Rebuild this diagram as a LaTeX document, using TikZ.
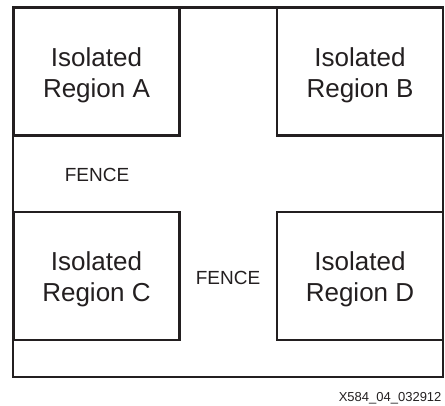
\documentclass[tikz,border=0pt]{standalone}
\usepackage{fontspec}
\setmainfont{Liberation Sans}
\usetikzlibrary{positioning}
\definecolor{FenceInk}{RGB}{35,31,32}
\tikzset{
  fence/frame/.style={
    draw=FenceInk,
    line width=2.2pt
  },
  fence/region/.style={
    draw=FenceInk,
    line width=2.2pt,
    fill=white,
    minimum width=166pt,
    minimum height=128pt,
    inner sep=0pt
  },
  fence/name/.style={
    align=center,
    text=FenceInk,
    inner sep=0pt,
    font=\fontsize{26}{31}\selectfont
  },
  fence/label/.style={font=\fontsize{19}{23}\selectfont, text=FenceInk, align=center},
  fence/tag/.style={font=\fontsize{13}{15}\selectfont, text=FenceInk, anchor=east}
}
\begin{document}
\begin{tikzpicture}[x=1pt,y=-1pt]
  \useasboundingbox (0,0) rectangle (445,406);
  \draw[fence/frame] (13,7.5) rectangle (443,377);
  % the four isolated regions
  \node[fence/region] (regA) at (96.5,71.5) {};
  \node[fence/region] (regB) at (360,71.5) {};
  \node[fence/region] (regC) at (96.5,276) {};
  \node[fence/region] (regD) at (360,276) {};
  \node[fence/name] (regAname) at ([yshift=-3.5pt]regA.center) {Isolated\\Region A};
  \node[fence/name] (regBname) at ([yshift=-3.5pt]regB.center) {Isolated\\Region B};
  \node[fence/name] (regCname) at ([yshift=-3.5pt]regC.center) {Isolated\\Region C};
  \node[fence/name] (regDname) at ([yshift=-3.5pt]regD.center) {Isolated\\Region D};
  % fence labels
  \node[fence/label] (fenceTop) at (97,175) {FENCE};
  \node[fence/label] (fenceMid) at (228,278) {FENCE};
  \node[fence/tag] (figId) at (445,398) {X584\_04\_032912};
\end{tikzpicture}
\end{document}
